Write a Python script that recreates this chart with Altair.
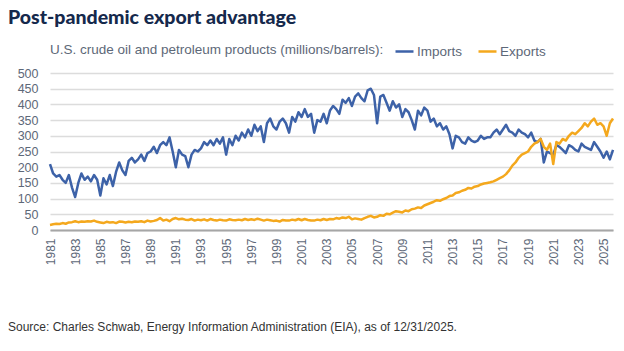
import altair as alt
import pandas as pd

TITLE = "Post-pandemic export advantage"
SUBTITLE = "U.S. crude oil and petroleum products (millions/barrels):"
SOURCE = "Source: Charles Schwab, Energy Information Administration (EIA), as of 12/31/2025."
SERIES = ["Imports", "Exports"]
FIRST_YEAR = 1981
X_TICKS = list(range(1981, 2026, 2))
Y_TICKS = list(range(0, 501, 50))

# quarterly readings, 1981 Q1 .. 2025 Q4
imports = [
    210, 180, 170, 175,  160, 150, 175, 135,  105, 150, 180, 160,  170, 155, 175, 160,
    110, 165, 145, 175,  140, 185, 215, 190,  175, 220, 230, 215,  225, 240, 220, 245,
    250, 265, 245, 270,  280, 270, 295, 250,  200, 255, 240, 235,  200, 240, 255, 250,
    260, 280, 270, 285,  270, 290, 275, 295,  240, 290, 270, 300,  285, 310, 295, 320,
    300, 335, 315, 330,  280, 340, 355, 330,  320, 345, 355, 340,  310, 360, 345, 375,
    360, 385, 360, 370,  310, 350, 345, 370,  340, 380, 395, 385,  370, 415, 405, 420,
    395, 425, 435, 420,  410, 445, 450, 430,  340, 425, 430, 405,  380, 410, 390, 400,
    360, 385, 375, 350,  320, 380, 365, 390,  380, 345, 355, 330,  340, 320, 330, 305,
    260, 300, 295, 280,  275, 295, 285, 280,  285, 300, 290, 295,  295, 310, 320, 305,
    320, 335, 315, 310,  300, 320, 310, 305,  295, 310, 285, 280,  290, 215, 250, 245,
    240, 270, 265, 255,  245, 270, 265, 255,  250, 275, 265, 260,  255, 280, 265, 250,
    230, 250, 225, 255,
]
exports = [
    16, 18, 20, 19,  22, 20, 24, 25,  28, 25, 27, 26,  28, 27, 30, 26,
    24, 22, 26, 24,  25, 22, 27, 26,  24, 26, 25, 27,  26, 28, 25, 30,
    27, 29, 32, 38,  30, 33, 28, 35,  38, 34, 36, 33,  32, 35, 30, 33,
    31, 34, 30, 35,  32, 30, 33, 31,  30, 34, 32, 31,  33, 31, 35, 32,
    34, 32, 36, 33,  30, 33, 31, 29,  30, 27, 32, 30,  30, 33, 31, 35,
    31, 35, 32, 30,  30, 33, 31, 35,  32, 35, 34, 38,  36, 40, 38, 42,
    34, 37, 35, 33,  38, 42, 45, 40,  42, 47, 45, 52,  50, 55, 60, 58,
    56, 62, 60, 66,  68, 72, 70, 78,  82, 86, 90, 95,  93, 98, 102, 108,
    110, 118, 120, 125,  128, 134, 132, 138,  140, 145, 148, 150,  152, 155, 160, 165,
    170, 178, 190, 205,  215, 230, 240, 245,  250, 265, 275, 280,  290, 265, 255, 275,
    210, 280, 275, 290,  285, 300, 310, 305,  315, 325, 340, 330,  345, 355, 335, 340,
    330, 300, 340, 355,
]

years = [FIRST_YEAR + i / 4 for i in range(len(imports))]
df = pd.concat([
    pd.DataFrame({"year": years, "value": imports, "series": SERIES[0]}),
    pd.DataFrame({"year": years, "value": exports, "series": SERIES[1]}),
])

BLUE = "#3d62a8"
ORANGE = "#f4a81d"
LABEL_COLOR = "#5d6878"
FONT = "Liberation Sans"

lines = alt.Chart(df).mark_line(strokeWidth=2.5, strokeJoin="round").encode(
    x=alt.X("year:Q",
            scale=alt.Scale(domain=[years[0], years[-1]], nice=False, zero=False),
            axis=alt.Axis(values=X_TICKS, format="d", labelAngle=-90, title=None,
                          grid=False, ticks=False, domain=True, domainColor="#a6a6a6",
                          domainWidth=2, labelPadding=8, labelFontSize=12,
                          labelColor=LABEL_COLOR, labelFont=FONT)),
    y=alt.Y("value:Q",
            scale=alt.Scale(domain=[0, 500], nice=False),
            axis=alt.Axis(values=Y_TICKS, title=None, domain=False, ticks=False,
                          grid=True, gridColor="#dcdcdc", gridWidth=1.5,
                          labelPadding=12, labelFontSize=12.5,
                          labelColor=LABEL_COLOR, labelFont=FONT)),
    color=alt.Color("series:N",
                    scale=alt.Scale(domain=SERIES, range=[BLUE, ORANGE]),
                    legend=alt.Legend(title=SUBTITLE, orient="none", legendX=0, legendY=-32,
                                      direction="horizontal", titleOrient="left",
                                      titleFont=FONT, titleFontSize=13.5, titleFontWeight="normal",
                                      titleColor=LABEL_COLOR, titlePadding=10, titleLimit=1000,
                                      labelFont=FONT, labelFontSize=13.5, labelColor=LABEL_COLOR,
                                      symbolType="stroke", symbolSize=324, symbolStrokeWidth=2.5,
                                      labelOffset=2, columnPadding=10, padding=0)),
    order="year:Q",
)

title = alt.Chart(pd.DataFrame({"t": [TITLE]})).mark_text(
    align="left", baseline="alphabetic", font="Lato", fontSize=19.5, fontWeight=900,
    color="#15294c",
).encode(text="t:N", x=alt.value(-42), y=alt.value(-49))

source = alt.Chart(pd.DataFrame({"t": [SOURCE]})).mark_text(
    align="left", baseline="alphabetic", font=FONT, fontSize=12, color="#333333",
).encode(text="t:N", x=alt.value(-42), y=alt.value(258))

chart = alt.layer(lines, title, source).properties(
    width=563, height=157,
    autosize=alt.AutoSizeParams(type="none"),
    padding={"left": 50, "top": 73, "right": 11, "bottom": 121},
    background="white",
).configure_view(stroke=None)

chart.save("out.html", embed_options={"renderer": "svg", "actions": False})
